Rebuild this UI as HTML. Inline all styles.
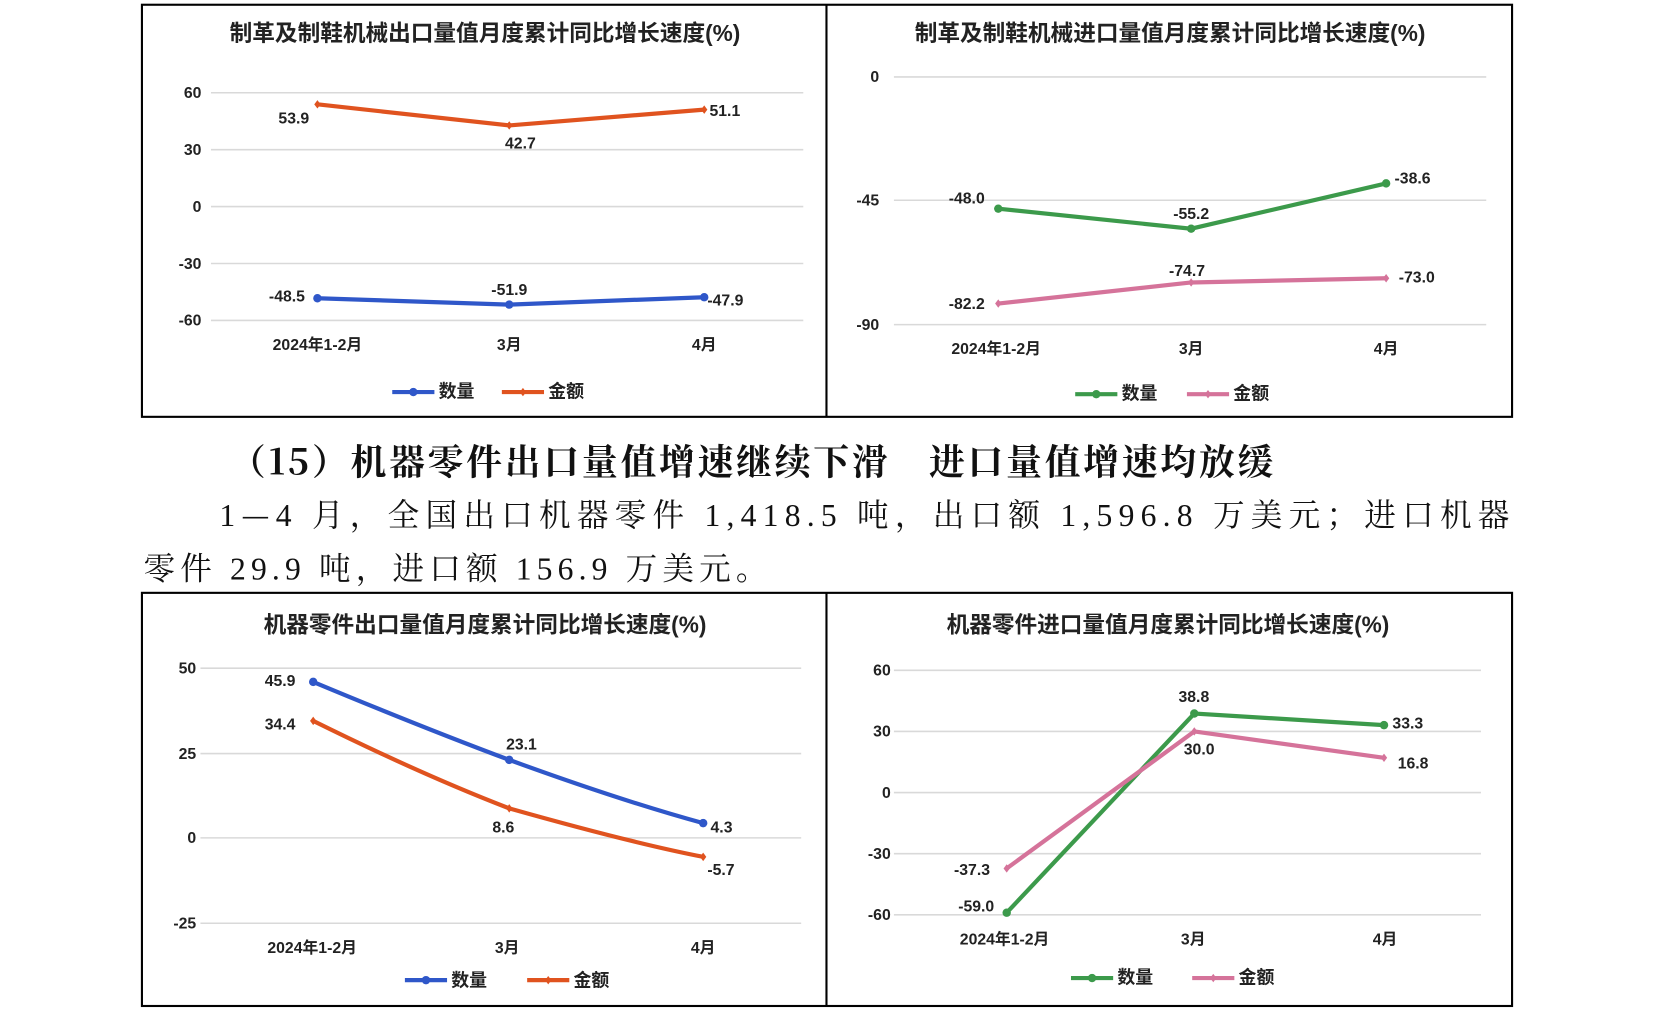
<!DOCTYPE html>
<html><head><meta charset="utf-8"><style>
html,body{margin:0;padding:0;background:#fff;}
svg{display:block;}
.t{font-family:"Liberation Sans","Noto Sans CJK SC",sans-serif;font-weight:bold;fill:#222;}
.ttl{font-size:21.5px;}
.tk{font-size:15px;}
.dl{font-size:15px;}
.lg{font-size:17px;}
.g{stroke:#d9d9d9;stroke-width:1.5;}
.s{font-family:"Noto Serif CJK SC","Liberation Serif",serif;fill:#111;}
.m{font-family:"Liberation Serif","Noto Serif CJK SC",serif;}
</style></head><body>
<svg width="1654" height="1016" viewBox="0 0 1569 964" xmlns="http://www.w3.org/2000/svg">
<rect x="0" y="0" width="1569" height="964" fill="#fff"/>
<rect x="134.5" y="4.5" width="1300" height="391" fill="none" stroke="#000" stroke-width="2"/>
<line x1="784" y1="4" x2="784" y2="395" stroke="#000" stroke-width="2"/>
<rect x="134.5" y="562.5" width="1300" height="392" fill="none" stroke="#000" stroke-width="2"/>
<line x1="784" y1="562" x2="784" y2="954" stroke="#000" stroke-width="2"/>

<!-- Chart 1 -->
<text class="t ttl" x="460" y="39" text-anchor="middle">制革及制鞋机械出口量值月度累计同比增长速度(%)</text>
<g class="g"><line x1="200" y1="88" x2="762" y2="88"/><line x1="200" y1="142" x2="762" y2="142"/><line x1="200" y1="196" x2="762" y2="196"/><line x1="200" y1="250" x2="762" y2="250"/><line x1="200" y1="304" x2="762" y2="304"/></g>
<g class="t tk" text-anchor="end"><text x="191" y="93">60</text><text x="191" y="147">30</text><text x="191" y="201">0</text><text x="191" y="255">-30</text><text x="191" y="309">-60</text></g>
<g class="t tk" text-anchor="middle"><text x="301" y="332">2024年1-2月</text><text x="483" y="332">3月</text><text x="668" y="332">4月</text></g>
<polyline points="301,99 483,119 668,104" fill="none" stroke="#e0531f" stroke-width="4"/>
<polyline points="301,283 483,289 668,282" fill="none" stroke="#2f57c9" stroke-width="4"/>
<g fill="#e0531f"><path d="M301,95 l3,4 -3,4 -3,-4z"/><path d="M483,115 l3,4 -3,4 -3,-4z"/><path d="M668,100 l3,4 -3,4 -3,-4z"/></g>
<g fill="#2f57c9"><circle cx="301" cy="283" r="4"/><circle cx="483" cy="289" r="4"/><circle cx="668" cy="282" r="4"/></g>
<g class="t dl"><text x="264" y="117">53.9</text><text x="479" y="141">42.7</text><text x="673" y="110">51.1</text>
<text x="255" y="286">-48.5</text><text x="466" y="280">-51.9</text><text x="671" y="290">-47.9</text></g>
<line x1="372" y1="372" x2="412" y2="372" stroke="#2f57c9" stroke-width="4"/><circle cx="392" cy="372" r="4" fill="#2f57c9"/>
<text class="t lg" x="416" y="377">数量</text>
<line x1="476" y1="372" x2="516" y2="372" stroke="#e0531f" stroke-width="4"/><path d="M496,368 l3,4 -3,4 -3,-4z" fill="#e0531f"/>
<text class="t lg" x="520" y="377">金额</text>

<!-- Chart 2 -->
<text class="t ttl" x="1110" y="39" text-anchor="middle">制革及制鞋机械进口量值月度累计同比增长速度(%)</text>
<g class="g"><line x1="848" y1="73" x2="1410" y2="73"/><line x1="848" y1="190" x2="1410" y2="190"/><line x1="848" y1="308" x2="1410" y2="308"/></g>
<g class="t tk" text-anchor="end"><text x="834" y="78">0</text><text x="834" y="195">-45</text><text x="834" y="313">-90</text></g>
<g class="t tk" text-anchor="middle"><text x="945" y="336">2024年1-2月</text><text x="1130" y="336">3月</text><text x="1315" y="336">4月</text></g>
<polyline points="947,198 1130,217 1315,174" fill="none" stroke="#3c9a4b" stroke-width="4"/>
<polyline points="947,288 1130,268 1315,264" fill="none" stroke="#d5739a" stroke-width="4"/>
<g fill="#3c9a4b"><circle cx="947" cy="198" r="4"/><circle cx="1130" cy="217" r="4"/><circle cx="1315" cy="174" r="4"/></g>
<g fill="#d5739a"><path d="M947,284 l3,4 -3,4 -3,-4z"/><path d="M1130,264 l3,4 -3,4 -3,-4z"/><path d="M1315,260 l3,4 -3,4 -3,-4z"/></g>
<g class="t dl"><text x="900" y="193">-48.0</text><text x="1113" y="208">-55.2</text><text x="1323" y="174">-38.6</text>
<text x="900" y="293">-82.2</text><text x="1109" y="262">-74.7</text><text x="1327" y="268">-73.0</text></g>
<line x1="1020" y1="374" x2="1060" y2="374" stroke="#3c9a4b" stroke-width="4"/><circle cx="1040" cy="374" r="4" fill="#3c9a4b"/>
<text class="t lg" x="1064" y="379">数量</text>
<line x1="1126" y1="374" x2="1166" y2="374" stroke="#d5739a" stroke-width="4"/><path d="M1146,370 l3,4 -3,4 -3,-4z" fill="#d5739a"/>
<text class="t lg" x="1170" y="379">金额</text>

<!-- Text -->
<text class="s" x="218" y="450" font-size="34" font-weight="bold" textLength="990" lengthAdjust="spacing">（15）机器零件出口量值增速继续下滑　进口量值增速均放缓</text>
<text class="s" x="208" y="499" font-size="30" textLength="1224" lengthAdjust="spacing"><tspan class="m">1</tspan>—<tspan class="m">4 </tspan>月，全国出口机器零件<tspan class="m"> 1,418.5 </tspan>吨，出口额<tspan class="m"> 1,596.8 </tspan>万美元；进口机器</text>
<text class="s" x="136" y="550" font-size="30" textLength="592" lengthAdjust="spacing">零件<tspan class="m"> 29.9 </tspan>吨，进口额<tspan class="m"> 156.9 </tspan>万美元。</text>

<!-- Chart 3 -->
<text class="t ttl" x="460" y="600" text-anchor="middle">机器零件出口量值月度累计同比增长速度(%)</text>
<g class="g"><line x1="190" y1="634" x2="760" y2="634"/><line x1="190" y1="715" x2="760" y2="715"/><line x1="190" y1="795" x2="760" y2="795"/><line x1="190" y1="876" x2="760" y2="876"/></g>
<g class="t tk" text-anchor="end"><text x="186" y="639">50</text><text x="186" y="720">25</text><text x="186" y="800">0</text><text x="186" y="881">-25</text></g>
<g class="t tk" text-anchor="middle"><text x="296" y="904">2024年1-2月</text><text x="481" y="904">3月</text><text x="667" y="904">4月</text></g>
<path d="M297,684 Q400,735 483,767 Q600,800 667,813" fill="none" stroke="#e0531f" stroke-width="4"/>
<path d="M297,647 Q400,690 483,721 Q590,760 667,781" fill="none" stroke="#2f57c9" stroke-width="4"/>
<g fill="#2f57c9"><circle cx="297" cy="647" r="4"/><circle cx="483" cy="721" r="4"/><circle cx="667" cy="781" r="4"/></g>
<g fill="#e0531f"><path d="M297,680 l3,4 -3,4 -3,-4z"/><path d="M483,763 l3,4 -3,4 -3,-4z"/><path d="M667,809 l3,4 -3,4 -3,-4z"/></g>
<g class="t dl"><text x="251" y="651">45.9</text><text x="251" y="692">34.4</text><text x="480" y="711">23.1</text><text x="467" y="790">8.6</text><text x="674" y="790">4.3</text><text x="671" y="830">-5.7</text></g>
<line x1="384" y1="930" x2="424" y2="930" stroke="#2f57c9" stroke-width="4"/><circle cx="404" cy="930" r="4" fill="#2f57c9"/>
<text class="t lg" x="428" y="936">数量</text>
<line x1="500" y1="930" x2="540" y2="930" stroke="#e0531f" stroke-width="4"/><path d="M520,926 l3,4 -3,4 -3,-4z" fill="#e0531f"/>
<text class="t lg" x="544" y="936">金额</text>

<!-- Chart 4 -->
<text class="t ttl" x="1108" y="600" text-anchor="middle">机器零件进口量值月度累计同比增长速度(%)</text>
<g class="g"><line x1="848" y1="636" x2="1405" y2="636"/><line x1="848" y1="694" x2="1405" y2="694"/><line x1="848" y1="752" x2="1405" y2="752"/><line x1="848" y1="810" x2="1405" y2="810"/><line x1="848" y1="868" x2="1405" y2="868"/></g>
<g class="t tk" text-anchor="end"><text x="845" y="641">60</text><text x="845" y="699">30</text><text x="845" y="757">0</text><text x="845" y="815">-30</text><text x="845" y="873">-60</text></g>
<g class="t tk" text-anchor="middle"><text x="953" y="896">2024年1-2月</text><text x="1132" y="896">3月</text><text x="1314" y="896">4月</text></g>
<polyline points="955,866 1133,677 1313,688" fill="none" stroke="#3c9a4b" stroke-width="4"/>
<polyline points="955,824 1133,694 1313,719" fill="none" stroke="#d5739a" stroke-width="4"/>
<g fill="#3c9a4b"><circle cx="955" cy="866" r="4"/><circle cx="1133" cy="677" r="4"/><circle cx="1313" cy="688" r="4"/></g>
<g fill="#d5739a"><path d="M955,820 l3,4 -3,4 -3,-4z"/><path d="M1133,690 l3,4 -3,4 -3,-4z"/><path d="M1313,715 l3,4 -3,4 -3,-4z"/></g>
<g class="t dl"><text x="909" y="865">-59.0</text><text x="905" y="830">-37.3</text><text x="1118" y="666">38.8</text><text x="1123" y="716">30.0</text><text x="1321" y="691">33.3</text><text x="1326" y="729">16.8</text></g>
<line x1="1016" y1="928" x2="1056" y2="928" stroke="#3c9a4b" stroke-width="4"/><circle cx="1036" cy="928" r="4" fill="#3c9a4b"/>
<text class="t lg" x="1060" y="933">数量</text>
<line x1="1131" y1="928" x2="1171" y2="928" stroke="#d5739a" stroke-width="4"/><path d="M1151,924 l3,4 -3,4 -3,-4z" fill="#d5739a"/>
<text class="t lg" x="1175" y="933">金额</text>
</svg>
</body></html>
